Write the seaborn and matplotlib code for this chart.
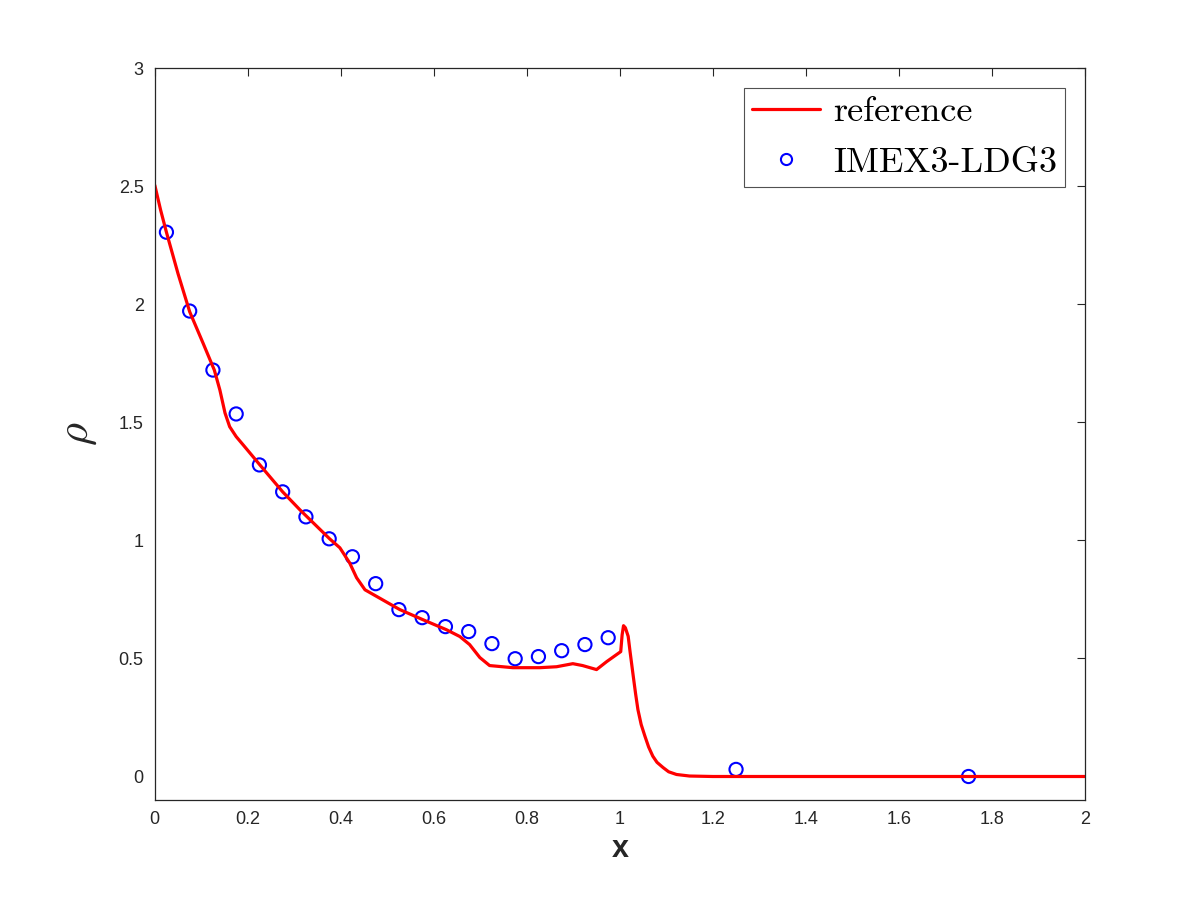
import matplotlib
matplotlib.use("Agg")
import matplotlib.pyplot as plt
from matplotlib.lines import Line2D
import numpy as np
import seaborn as sns

# reference solution
ref_x = [0.0, 0.0125, 0.025, 0.05, 0.075, 0.104, 0.128, 0.14, 0.151, 0.161, 0.175,
         0.19, 0.226, 0.275, 0.312, 0.376, 0.398, 0.419, 0.434, 0.452, 0.477,
         0.527, 0.577, 0.627, 0.656, 0.677, 0.699, 0.72, 0.77, 0.828, 0.864,
         0.899, 0.92, 0.95, 0.972, 1.002, 1.005, 1.008, 1.012, 1.018, 1.022,
         1.029, 1.034, 1.039, 1.046, 1.054, 1.062, 1.071, 1.08, 1.093, 1.105,
         1.122, 1.15, 1.2, 2.0]
ref_rho = [2.505, 2.40, 2.306, 2.13, 1.969, 1.835, 1.722, 1.637, 1.540, 1.482, 1.44,
           1.405, 1.32, 1.206, 1.13, 1.007, 0.969, 0.905, 0.842, 0.791, 0.763,
           0.707, 0.664, 0.622, 0.593, 0.559, 0.504, 0.470, 0.461, 0.461, 0.465,
           0.478, 0.470, 0.453, 0.487, 0.529, 0.60, 0.639, 0.63, 0.594, 0.53,
           0.424, 0.35, 0.283, 0.22, 0.171, 0.125, 0.086, 0.06, 0.038, 0.02,
           0.0085, 0.002, 0.0, 0.0]

# IMEX3-LDG3 cell averages
num_x = [0.025, 0.075, 0.125, 0.175, 0.225, 0.275, 0.325, 0.375, 0.425, 0.475,
         0.525, 0.575, 0.625, 0.675, 0.725, 0.775, 0.825, 0.875, 0.925, 0.975,
         1.25, 1.75]
num_rho = [2.306, 1.972, 1.722, 1.536, 1.320, 1.206, 1.100, 1.007, 0.931, 0.817,
           0.707, 0.673, 0.635, 0.614, 0.563, 0.499, 0.508, 0.533, 0.559, 0.588,
           0.030, 0.0]

sns.set_theme(style="white")
plt.rcParams.update({
    "font.family": ["Liberation Sans", "DejaVu Sans"],
    "mathtext.fontset": "cm",
    "axes.edgecolor": "#262626",
    "axes.linewidth": 0.9,
    "xtick.direction": "in",
    "ytick.direction": "in",
    "xtick.top": True,
    "ytick.right": True,
    "xtick.major.size": 6,
    "ytick.major.size": 6,
    "xtick.major.width": 0.8,
    "ytick.major.width": 0.8,
})

fig = plt.figure(figsize=(12, 9), dpi=100)
ax = fig.add_axes([0.129, 0.111, 0.775, 0.813])

sns.lineplot(x=ref_x, y=ref_rho, color="#FF0000", linewidth=2.3, ax=ax,
             sort=False, estimator=None)
sns.scatterplot(x=num_x, y=num_rho, marker="o", s=90, facecolors="none",
                edgecolor="#0000FF", linewidth=1.5, ax=ax)

ax.set_xlim(0, 2)
ax.set_ylim(-0.1, 3)
ax.set_xticks(np.arange(0, 2.01, 0.2))
ax.set_xticklabels(["0", "0.2", "0.4", "0.6", "0.8", "1", "1.2", "1.4", "1.6", "1.8", "2"])
ax.set_yticks(np.arange(0, 3.01, 0.5))
ax.set_yticklabels(["0", "0.5", "1", "1.5", "2", "2.5", "3"])
ax.tick_params(axis="both", labelsize=13, colors="#262626", pad=8)

ax.set_xlabel("x", fontsize=22, fontweight="bold", color="#262626", labelpad=4)
ax.set_ylabel(r"$\rho$", fontsize=32, color="#262626", labelpad=14)

handles = [
    Line2D([], [], color="#FF0000", linewidth=2.3),
    Line2D([], [], color="#0000FF", marker="o", linestyle="none",
           markerfacecolor="none", markersize=8, markeredgewidth=1.5),
]
leg = ax.legend(handles, ["reference", "IMEX3-LDG3"], loc="upper right",
                prop={"family": "cmr10", "size": 26}, frameon=True, fancybox=False,
                edgecolor="#262626", borderaxespad=0.55, handlelength=1.9,
                handletextpad=0.35, borderpad=0.22, labelspacing=0.5)
leg.get_frame().set_linewidth(0.8)
for t in leg.get_texts():
    t.set_color("black")

fig.savefig("out.png", dpi=100, facecolor="white")
